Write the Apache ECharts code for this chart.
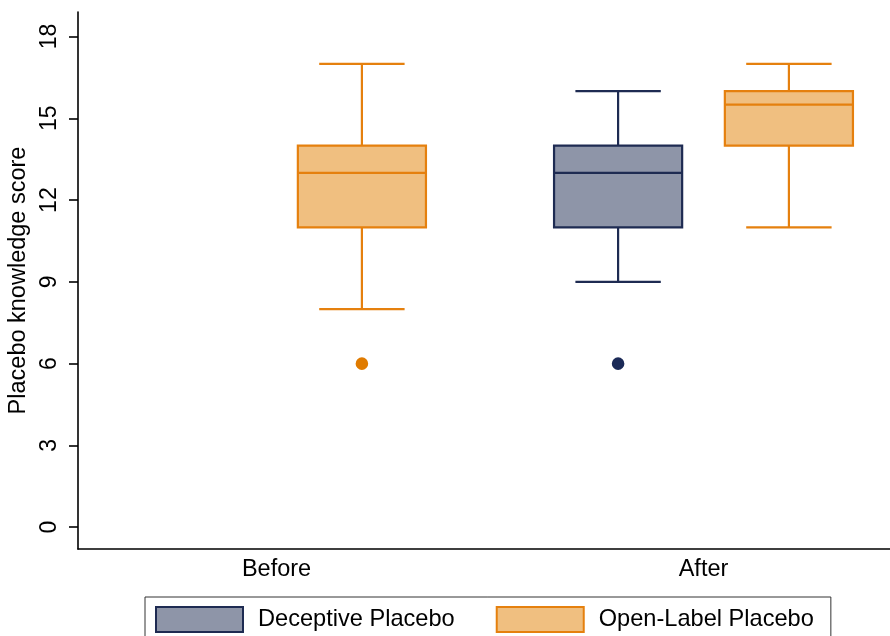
<!DOCTYPE html>
<html>
<head>
<meta charset="utf-8">
<script src="https://cdn.jsdelivr.net/npm/echarts@6/dist/echarts.min.js"></script>
<style>html,body{margin:0;padding:0;background:#fff}#c{width:890px;height:636px}</style>
</head>
<body>
<div id="c"></div>
<script>
// ---- data ----
var categories = ['Before', 'After'];
var yTicks = [0, 3, 6, 9, 12, 15, 18];
// [min, Q1, median, Q3, max] per category (null = no box)
var deceptiveBoxes = [null, [9, 11, 13, 14, 16]];
var openLabelBoxes = [[8, 11, 13, 14, 17], [11, 14, 15.5, 16, 17]];
var deceptiveOutliers = [[], [6]];
var openLabelOutliers = [[6], []];

var seriesNames = ['Deceptive Placebo', 'Open-Label Placebo'];
var FONT = "'Liberation Sans', Arial, sans-serif";

var DP = {fill: '#8e95a8', stroke: '#1e2b52', dot: '#1b2a57'};
var OL = {fill: '#f0bf80', stroke: '#e5800e', dot: '#e07b00'};

function toBoxData(arr) {
  var out = [];
  arr.forEach(function (b, i) { if (b) out.push([i].concat(b)); });
  return out;
}
function toOutData(arr) {
  var out = [];
  arr.forEach(function (list, i) { list.forEach(function (v) { out.push([i, v]); }); });
  return out;
}

function boxRenderer(offsetFrac, col) {
  return function (params, api) {
    var cat = api.value(0);
    var band = api.size([1, 0])[0];
    var cx = api.coord([cat, 0])[0] + offsetFrac * band;
    var half = band * 0.15, cap = band * 0.1;
    function y(v) { return api.coord([cat, v])[1]; }
    var yMin = y(api.value(1)), yQ1 = y(api.value(2)), yMed = y(api.value(3)),
        yQ3 = y(api.value(4)), yMax = y(api.value(5));
    var ls = {stroke: col.stroke, lineWidth: 2.2};
    return {
      type: 'group',
      children: [
        {type: 'line', shape: {x1: cx, y1: yMax, x2: cx, y2: yQ3}, style: ls},
        {type: 'line', shape: {x1: cx, y1: yQ1, x2: cx, y2: yMin}, style: ls},
        {type: 'line', shape: {x1: cx - cap, y1: yMax, x2: cx + cap, y2: yMax}, style: ls},
        {type: 'line', shape: {x1: cx - cap, y1: yMin, x2: cx + cap, y2: yMin}, style: ls},
        {type: 'rect', shape: {x: cx - half, y: yQ3, width: 2 * half, height: yQ1 - yQ3},
          style: {fill: col.fill, stroke: col.stroke, lineWidth: 2.2}},
        {type: 'line', shape: {x1: cx - half, y1: yMed, x2: cx + half, y2: yMed}, style: ls}
      ]
    };
  };
}
function dotRenderer(offsetFrac, col) {
  return function (params, api) {
    var cat = api.value(0);
    var band = api.size([1, 0])[0];
    var p = api.coord([cat, api.value(1)]);
    return {type: 'circle', shape: {cx: p[0] + offsetFrac * band, cy: p[1], r: 6.3},
      style: {fill: col.dot}};
  };
}

var YMIN = -0.8, YMAX = 18.9;

var chart = echarts.init(document.getElementById('c'), null, {renderer: 'canvas'});
chart.setOption({
  backgroundColor: '#fff',
  animation: false,
  textStyle: {fontFamily: FONT},
  grid: [
    {left: 78, right: 0, top: 12, bottom: 87, outerBoundsMode: 'none', containLabel: false},
    {left: 276.5, width: 427, top: 12, bottom: 87, outerBoundsMode: 'none', containLabel: false}
  ],
  xAxis: [
    {gridIndex: 0, type: 'value', min: 0, max: 1,
      axisLine: {show: true, onZero: false, lineStyle: {color: '#000', width: 1.6}},
      axisTick: {show: false}, axisLabel: {show: false}, splitLine: {show: false}},
    {gridIndex: 1, type: 'category', data: categories, boundaryGap: false,
      axisLine: {show: false}, axisTick: {show: false}, splitLine: {show: false},
      axisLabel: {color: '#000', fontSize: 23.5, fontFamily: FONT, margin: 9}}
  ],
  yAxis: [
    {gridIndex: 0, type: 'value', min: YMIN, max: YMAX,
      name: 'Placebo knowledge score', nameLocation: 'middle', nameRotate: 90, nameGap: 44,
      nameTextStyle: {color: '#000', fontSize: 23.5, fontFamily: FONT},
      axisLine: {show: true, onZero: false, lineStyle: {color: '#000', width: 1.6}},
      axisTick: {show: true, length: 9, lineStyle: {color: '#000', width: 1.6}, customValues: yTicks},
      axisLabel: {color: '#000', fontSize: 23, fontFamily: FONT, rotate: 90, margin: 17, customValues: yTicks},
      splitLine: {show: false}},
    {gridIndex: 1, type: 'value', min: YMIN, max: YMAX, show: false, splitLine: {show: false}}
  ],
  legend: {
    left: 145, top: 597,
    padding: [9, 17, 9, 10],
    borderColor: '#333', borderWidth: 1,
    itemWidth: 87, itemHeight: 25, itemGap: 41,
    textStyle: {color: '#000', fontSize: 23.6, fontFamily: FONT, padding: [0, 0, 0, 10]},
    data: [
      {name: seriesNames[0], icon: 'rect', itemStyle: {color: DP.fill, borderColor: DP.stroke, borderWidth: 2}},
      {name: seriesNames[1], icon: 'rect', itemStyle: {color: OL.fill, borderColor: OL.stroke, borderWidth: 2}}
    ]
  },
  series: [
    {name: seriesNames[0], type: 'custom', xAxisIndex: 1, yAxisIndex: 1,
      itemStyle: {color: DP.fill, borderColor: DP.stroke, borderWidth: 2},
      encode: {x: 0, y: [1, 2, 3, 4, 5]},
      renderItem: boxRenderer(-0.2, DP), data: toBoxData(deceptiveBoxes)},
    {name: seriesNames[1], type: 'custom', xAxisIndex: 1, yAxisIndex: 1,
      itemStyle: {color: OL.fill, borderColor: OL.stroke, borderWidth: 2},
      encode: {x: 0, y: [1, 2, 3, 4, 5]},
      renderItem: boxRenderer(0.2, OL), data: toBoxData(openLabelBoxes)},
    {name: seriesNames[0], type: 'custom', xAxisIndex: 1, yAxisIndex: 1,
      itemStyle: {color: DP.fill, borderColor: DP.stroke, borderWidth: 2},
      encode: {x: 0, y: 1},
      renderItem: dotRenderer(-0.2, DP), data: toOutData(deceptiveOutliers)},
    {name: seriesNames[1], type: 'custom', xAxisIndex: 1, yAxisIndex: 1,
      itemStyle: {color: OL.fill, borderColor: OL.stroke, borderWidth: 2},
      encode: {x: 0, y: 1},
      renderItem: dotRenderer(0.2, OL), data: toOutData(openLabelOutliers)}
  ]
});
</script>
</body>
</html>
